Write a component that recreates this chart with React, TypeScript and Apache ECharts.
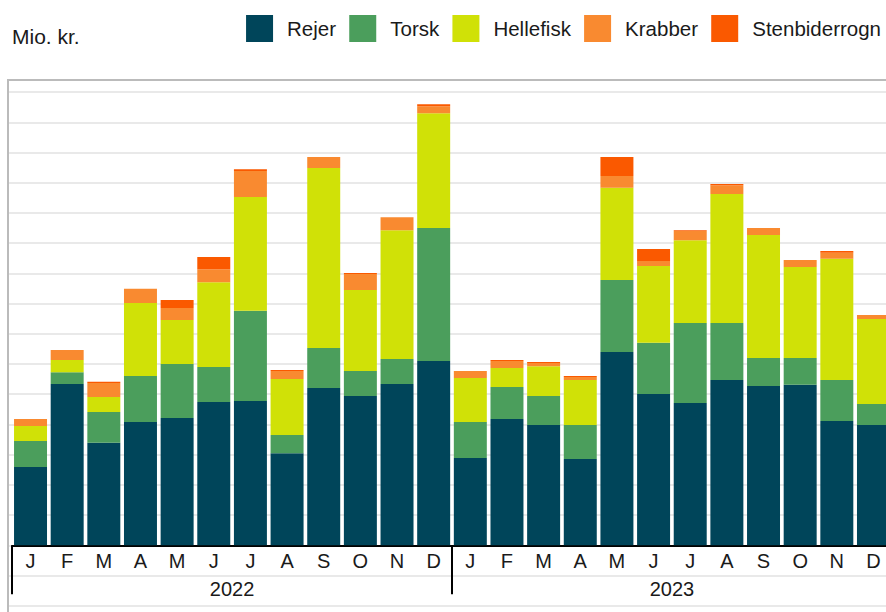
import React, { useEffect, useRef } from "react";
import * as echarts from "echarts";

const months = ["J", "F", "M", "A", "M", "J", "J", "A", "S", "O", "N", "D", "J", "F", "M", "A", "M", "J", "J", "A", "S", "O", "N", "D"];
const years = ["2022", "2023"];
const seriesNames = ["Rejer", "Torsk", "Hellefisk", "Krabber", "Stenbiderrogn"];
const colors = ["#00455a", "#4b9e5c", "#d0e107", "#f98a30", "#fa5900"];

const rejer = [25.9, 53.4, 33.9, 40.8, 42.1, 47.4, 47.8, 30.5, 52.1, 49.4, 53.4, 61.0, 28.9, 41.8, 39.8, 28.6, 64.0, 50.1, 47.1, 54.7, 52.7, 53.1, 41.1, 39.8];
const torsk = [8.6, 3.9, 10.2, 15.2, 17.9, 11.6, 29.8, 6.0, 13.2, 8.3, 8.3, 44.0, 11.9, 10.6, 9.6, 11.2, 23.8, 16.9, 26.5, 18.9, 9.3, 8.9, 13.6, 7.0];
const hellefisk = [5.0, 4.0, 5.0, 24.2, 14.6, 28.1, 37.7, 18.5, 59.6, 26.8, 42.6, 38.0, 14.6, 6.3, 9.9, 14.9, 30.5, 25.4, 27.4, 42.7, 40.7, 30.1, 40.1, 28.1];
const krabber = [2.3, 3.3, 4.6, 4.7, 3.9, 4.3, 8.6, 2.7, 3.6, 5.3, 4.3, 2.3, 2.3, 2.3, 1.0, 1.0, 3.9, 1.7, 3.0, 2.9, 2.3, 2.3, 2.0, 1.3];
const stenbiderrogn = [0, 0, 0.4, 0, 2.7, 4.0, 0.6, 0.3, 0, 0.3, 0, 0.7, 0, 0.3, 0.4, 0.3, 6.3, 4.0, 0.3, 0.4, 0, 0, 0.6, 0];

const FONT = "'Liberation Sans', Arial, sans-serif";

export default function App() {
  const ref = useRef<HTMLDivElement>(null);
  useEffect(() => {
    if (!ref.current) return;
    const chart = echarts.init(ref.current, undefined, { renderer: "svg" });
    const dataSets = [rejer, torsk, hellefisk, krabber, stenbiderrogn];
    const option: any = {
      animation: false,
      textStyle: { fontFamily: FONT },
      title: {
        text: "Mio. kr.",
        left: 7,
        top: 21,
        textStyle: { fontSize: 21, fontWeight: "normal", color: "#1a1a1a", fontFamily: FONT },
      },
      legend: {
        data: seriesNames,
        right: 0,
        top: 10,
        icon: "rect",
        itemWidth: 27,
        itemHeight: 27,
        itemGap: 13.2,
        textStyle: { fontSize: 20.5, color: "#1a1a1a", fontFamily: FONT, padding: [0, 0, 0, 9] },
      },
      grid: [
        { left: 12.2, right: -5.8, top: 80, bottom: 66.7, outerBoundsMode: "none", containLabel: false },
        { left: 8, right: 0, top: 80, bottom: 6.3, outerBoundsMode: "none", containLabel: false },
      ],
      xAxis: [
        {
          type: "category",
          gridIndex: 0,
          data: months,
          position: "bottom",
          axisLine: { show: true, onZero: false, lineStyle: { color: "#000", width: 2 } },
          axisTick: { show: false },
          axisLabel: { fontSize: 20, color: "#1a1a1a", margin: 6, fontFamily: FONT },
          splitLine: { show: false },
        },
        {
          type: "value",
          gridIndex: 1,
          show: false,
          min: 0,
          max: 1,
          splitLine: { show: false },
        },
        {
          type: "category",
          gridIndex: 0,
          data: years,
          position: "bottom",
          axisLine: { show: false, onZero: false },
          axisTick: { show: true, length: 49, lineStyle: { color: "#000", width: 2 } },
          axisLabel: { fontSize: 20, color: "#1a1a1a", margin: 34, fontFamily: FONT },
          splitLine: { show: false },
        },
      ],
      yAxis: [
        {
          type: "value",
          gridIndex: 0,
          min: 0,
          max: 154,
          axisLine: { show: false },
          axisTick: { show: false },
          axisLabel: { show: false },
          splitLine: { show: false },
        },
        {
          type: "value",
          gridIndex: 1,
          min: -20,
          max: 154,
          interval: 10,
          axisLine: { show: false },
          axisTick: { show: false },
          axisLabel: { show: false },
          splitLine: { show: true, lineStyle: { color: "#e9e9e9", width: 2 } },
        },
      ],
      series: seriesNames.map((name, i) => ({
        name,
        type: "bar",
        stack: "total",
        xAxisIndex: 0,
        yAxisIndex: 0,
        barCategoryGap: "10%",
        itemStyle: { color: colors[i] },
        emphasis: { disabled: true },
        data: dataSets[i],
      })),
      graphic: [
        {
          type: "line",
          z: 100,
          shape: { x1: 8, y1: 80, x2: 886, y2: 80 },
          style: { stroke: "#bbbbbb", lineWidth: 2 },
        },
        {
          type: "line",
          z: 100,
          shape: { x1: 8, y1: 79, x2: 8, y2: 612 },
          style: { stroke: "#bbbbbb", lineWidth: 2 },
        },
      ],
    };
    chart.setOption(option);
    return () => chart.dispose();
  }, []);
  return (
    <div
      ref={ref}
      style={{ position: "absolute", left: 0, top: 0, width: 886, height: 612, background: "#fff" }}
    />
  );
}
